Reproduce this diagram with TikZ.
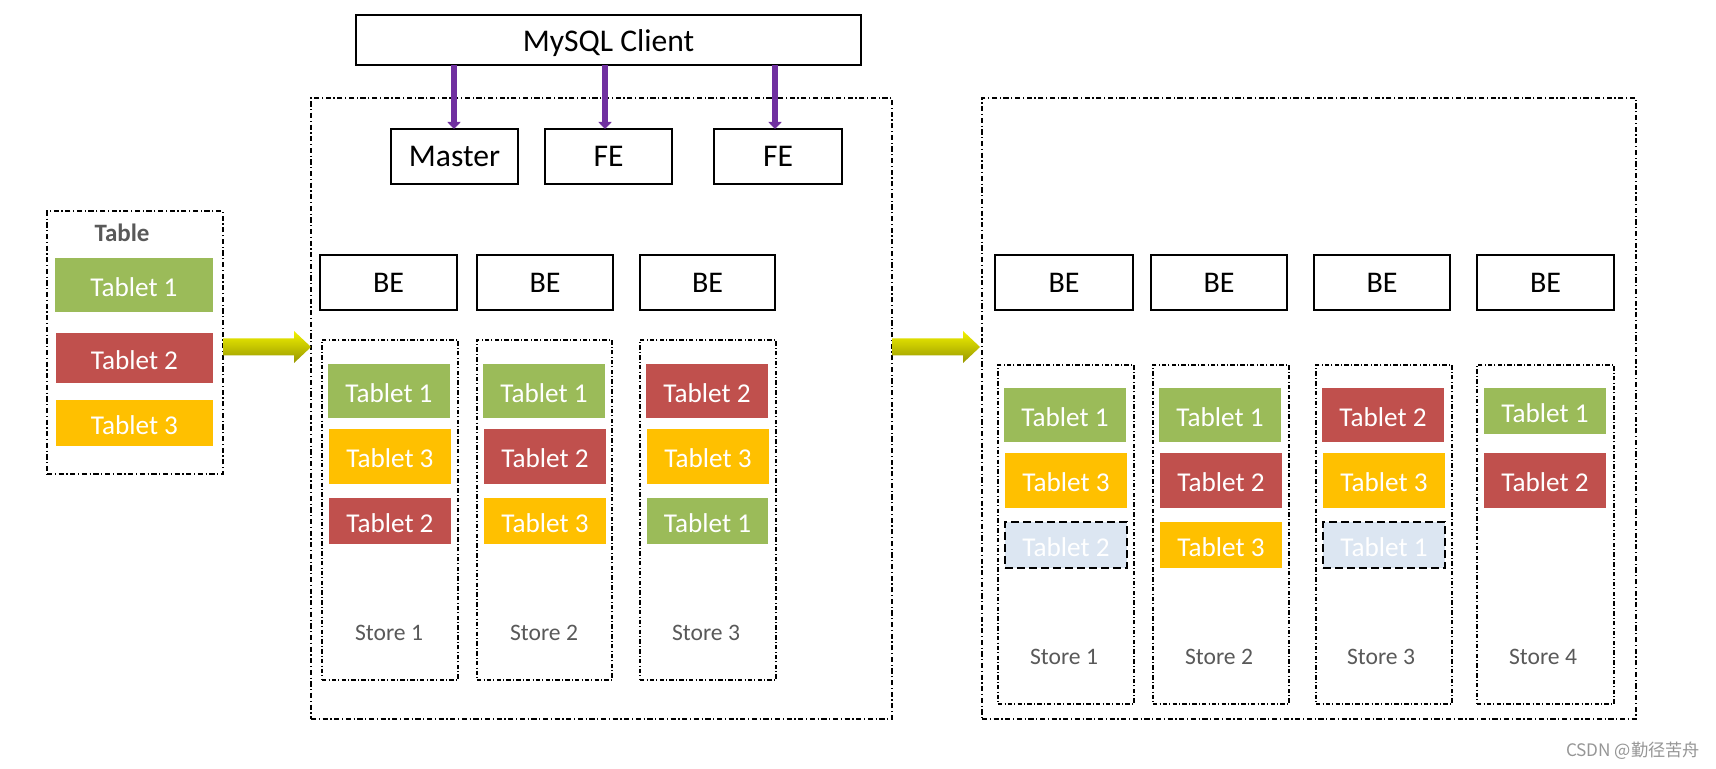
\documentclass[tikz,border=0pt]{standalone}
\usepackage{fontspec}
\setmainfont{Carlito}
\newfontfamily\cjkwm{Noto Sans CJK SC}
\usetikzlibrary{arrows.meta,calc}
\definecolor{tgreen}{HTML}{9BBB59}
\definecolor{tred}{HTML}{C0504D}
\definecolor{tyellow}{HTML}{FFC000}
\definecolor{tghost}{HTML}{DCE6F2}
\definecolor{tgrey}{HTML}{595959}
\definecolor{ppl}{HTML}{7030A0}
\definecolor{ylwtop}{RGB}{242,242,0}
\definecolor{ylwbot}{RGB}{150,150,0}
\newcommand{\bx}[7]{%
  \pgfmathsetmacro{\bxw}{(#4-#2)*0.5}%
  \pgfmathsetmacro{\bxh}{(#5-#3)*0.5}%
  \node[#6, minimum width=\bxw pt, minimum height=\bxh pt] (#1) at ({(#2+#4)/2},{(#3+#5)/2}) {#7};}
\tikzset{
  every node/.style={inner sep=0pt, outer sep=0pt},
  cluster/.style={draw=black, line width=0.6pt, dash pattern=on 2.6pt off 1.3pt on 0.6pt off 1.3pt},
  storebox/.style={draw=black, line width=0.55pt, dash pattern=on 2.2pt off 1.1pt on 0.5pt off 1.1pt},
  solidbox/.style={draw=black, line width=0.75pt, font=\fontsize{15.8}{19}\selectfont},
  bebox/.style={solidbox, font=\fontsize{15}{18}\selectfont},
  tab/.style={text=white, font=\fontsize{13.6}{16}\selectfont, text height=11.3pt},
  tg/.style={tab, fill=tgreen},
  tr/.style={tab, fill=tred},
  ty/.style={tab, fill=tyellow},
  tx/.style={tab, fill=tghost, draw=black, line width=1.2pt, dash pattern=on 4pt off 2pt},
  storelabel/.style={text=tgrey, font=\fontsize{11.8}{14}\selectfont},
  parrow/.style={draw=ppl, line width=3pt, -{Triangle[width=6.5pt,length=3.5pt]}},
  yarrow/.style={top color=ylwtop, bottom color=ylwbot, draw=none}
}
\begin{document}
\begin{tikzpicture}[x=0.5pt,y=-0.5pt]
\useasboundingbox[fill=white] (0,0) rectangle (1716,769);

% ---- Table ----
\bx{tbl}{47}{211}{223}{474}{cluster}{}
\node[text=tgrey, font=\bfseries\fontsize{12.5}{15}\selectfont] (tbllabel) at (122,233) {Table};
\bx{tblA}{55}{258}{213}{312}{tg}{Tablet 1}
\bx{tblB}{56}{333}{213}{383}{tr}{Tablet 2}
\bx{tblC}{56}{400}{213}{446}{ty}{Tablet 3}

% ---- Cluster 1 ----
\bx{cA}{311}{98}{892}{719}{cluster}{}
\bx{client}{356}{15}{861}{65}{solidbox, text height=14.5pt}{MySQL Client}
\bx{master}{391}{129}{518}{184}{solidbox}{Master}
\bx{feA}{545}{129}{672}{184}{solidbox}{FE}
\bx{feB}{714}{129}{842}{184}{solidbox}{FE}
\coordinate (pA) at (454,0);
\coordinate (pB) at (605,0);
\coordinate (pC) at (775,0);
\draw[parrow] (client.south -| pA) -- (master.north -| pA);
\draw[parrow] (client.south -| pB) -- (feA.north -| pB);
\draw[parrow] (client.south -| pC) -- (feB.north -| pC);

\bx{beAa}{320}{255}{457}{310}{bebox}{BE}
\bx{beAb}{477}{255}{613}{310}{bebox}{BE}
\bx{beAc}{640}{255}{775}{310}{bebox}{BE}

\bx{sAa}{322}{340}{458}{680}{storebox}{}
\bx{sAb}{477}{340}{612}{680}{storebox}{}
\bx{sAc}{640}{340}{776}{680}{storebox}{}

\bx{tAa1}{328}{364}{450}{418}{tg}{Tablet 1}
\bx{tAa2}{329}{429}{451}{484}{ty}{Tablet 3}
\bx{tAa3}{329}{498}{451}{544}{tr}{Tablet 2}
\bx{tAb1}{483}{364}{605}{418}{tg}{Tablet 1}
\bx{tAb2}{484}{429}{606}{484}{tr}{Tablet 2}
\bx{tAb3}{484}{498}{606}{544}{ty}{Tablet 3}
\bx{tAc1}{646}{364}{768}{418}{tr}{Tablet 2}
\bx{tAc2}{647}{429}{769}{484}{ty}{Tablet 3}
\bx{tAc3}{647}{498}{768}{544}{tg}{Tablet 1}

\node[storelabel] (lAa) at (389,633) {Store 1};
\node[storelabel] (lAb) at (544,633) {Store 2};
\node[storelabel] (lAc) at (706,633) {Store 3};

% ---- Cluster 2 ----
\bx{cB}{982}{98}{1636}{719}{cluster}{}
\bx{beBa}{995}{255}{1133}{310}{bebox}{BE}
\bx{beBb}{1151}{255}{1287}{310}{bebox}{BE}
\bx{beBc}{1314}{255}{1450}{310}{bebox}{BE}
\bx{beBd}{1477}{255}{1614}{310}{bebox}{BE}

\bx{sBa}{998}{365}{1134}{704}{storebox}{}
\bx{sBb}{1153}{365}{1289}{704}{storebox}{}
\bx{sBc}{1316}{365}{1452}{704}{storebox}{}
\bx{sBd}{1477}{365}{1614}{704}{storebox}{}

\bx{tBa1}{1004}{388}{1126}{442}{tg}{Tablet 1}
\bx{tBa2}{1005}{453}{1127}{508}{ty}{Tablet 3}
\bx{tBa3}{1005}{522}{1127}{568}{tx}{Tablet 2}
\bx{tBb1}{1159}{388}{1281}{442}{tg}{Tablet 1}
\bx{tBb2}{1160}{453}{1282}{508}{tr}{Tablet 2}
\bx{tBb3}{1160}{522}{1282}{568}{ty}{Tablet 3}
\bx{tBc1}{1322}{388}{1444}{442}{tr}{Tablet 2}
\bx{tBc2}{1323}{453}{1445}{508}{ty}{Tablet 3}
\bx{tBc3}{1323}{522}{1445}{568}{tx}{Tablet 1}
\bx{tBd1}{1484}{388}{1606}{434}{tg}{Tablet 1}
\bx{tBd2}{1484}{453}{1606}{508}{tr}{Tablet 2}

\node[storelabel] (lBa) at (1064,657) {Store 1};
\node[storelabel] (lBb) at (1219,657) {Store 2};
\node[storelabel] (lBc) at (1381,657) {Store 3};
\node[storelabel] (lBd) at (1543,657) {Store 4};

% ---- yellow arrows ----
\coordinate (yA0) at (tbl.east |- 0,347);
\coordinate (yA1) at (cA.west |- 0,347);
\shade[yarrow] ($(yA0)+(0,-8.5)$) -- ($(yA1)+(-17,-8.5)$) -- ($(yA1)+(-17,-16)$) -- (yA1)
  -- ($(yA1)+(-17,16)$) -- ($(yA1)+(-17,8.5)$) -- ($(yA0)+(0,8.5)$) -- cycle;
\coordinate (yB0) at (cA.east |- 0,347);
\coordinate (yB1) at ([xshift=-1pt]cB.west |- 0,347);
\shade[yarrow] ($(yB0)+(0,-8.5)$) -- ($(yB1)+(-17,-8.5)$) -- ($(yB1)+(-17,-16)$) -- (yB1)
  -- ($(yB1)+(-17,16)$) -- ($(yB1)+(-17,8.5)$) -- ($(yB0)+(0,8.5)$) -- cycle;

% ---- watermark ----
\node[anchor=east, text={rgb,255:red,150;green,150;blue,150}, font=\cjkwm\fontsize{8.6}{10}\selectfont] (wm) at (1700,751) {CSDN @勤径苦舟};
\end{tikzpicture}
\end{document}
